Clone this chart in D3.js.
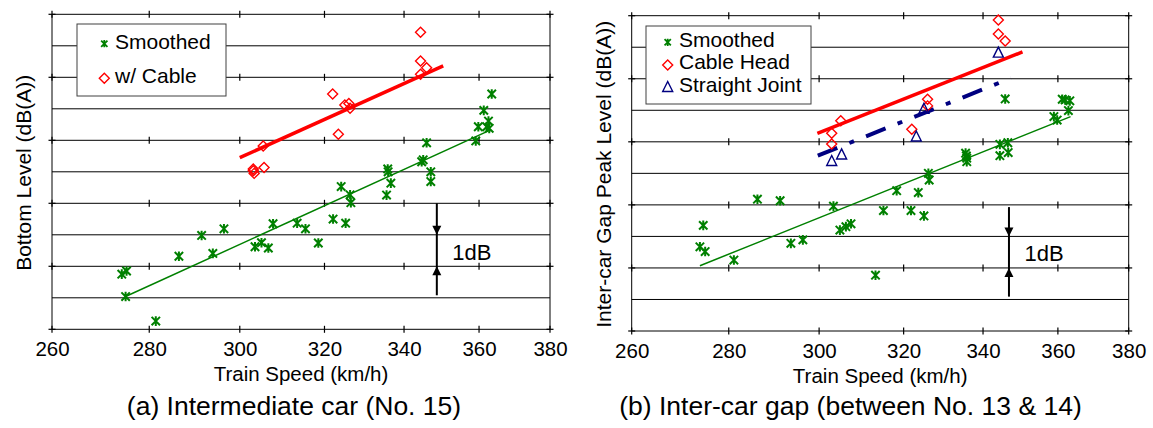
<!DOCTYPE html>
<html><head><meta charset="utf-8">
<script src="https://cdn.jsdelivr.net/npm/d3@7"></script>
<style>
body{margin:0;background:#fff}
svg{display:block}
text{font-family:"Liberation Sans",Arial,Helvetica,sans-serif;fill:#000}
</style>
</head><body>
<svg id="c" width="1153" height="428"></svg>
<script>
// ---------- data ----------
const xTicks = [260, 280, 300, 320, 340, 360, 380];
const yLevels = [0, 1, 2, 3, 4, 5, 6, 7, 8, 9, 10];
const yMajor = [0, 2, 4, 6, 8, 10];

// (a) Intermediate car (No. 15)  [speed km/h, level dB]
const smoothedA = [
  [274.2,1.75],[275.2,1.85],[275.0,1.04],[281.4,0.26],[286.4,2.32],[291.4,2.98],
  [293.9,2.41],[296.4,3.19],[303.5,2.62],[305.0,2.75],[306.6,2.58],[307.7,3.35],
  [313.4,3.37],[315.4,3.19],[318.5,2.74],[322.1,3.50],[324.1,4.53],[325.2,3.37],
  [326.3,4.27],[326.5,4.02],[335.5,4.26],[335.8,5.09],[335.9,5.00],[336.6,4.64],
  [344.6,5.32],[345.0,5.38],[345.9,5.92],[347.0,5.00],[347.0,4.69],[359.1,5.98],
  [359.8,6.43],[361.3,6.95],[362.1,6.43],[362.6,6.61],[362.8,6.38],[363.5,7.47]
];
const cableA = [
  [344.3,9.43],[344.3,8.52],[345.9,8.30],[344.3,8.10],[322.0,7.47],[325.0,7.12],
  [326.0,7.17],[326.3,7.02],[323.4,6.19],[305.4,5.82],[303.1,5.09],[303.3,4.95],
  [303.1,5.03],[305.6,5.14]
];
const fitSmoothedA = [[275.0,1.04],[362.6,6.30]];
const fitCableA = [[300.0,5.45],[350.3,8.36]];

// (b) Inter-car gap (between No. 13 & 14)
const smoothedB = [
  [274.6,3.35],[273.9,2.67],[275.0,2.52],[281.1,2.25],[286.2,4.18],[291.2,4.13],
  [293.6,2.78],[296.3,2.89],[303.3,3.96],[304.8,3.20],[306.2,3.31],[307.4,3.40],
  [313.2,1.77],[315.1,3.82],[318.3,4.45],[321.8,3.82],[323.6,4.39],[325.0,3.65],
  [326.1,5.00],[326.3,4.79],[335.5,5.64],[335.8,5.48],[335.8,5.37],[335.7,5.55],
  [344.4,5.92],[344.4,5.56],[346.5,5.97],[346.6,5.66],[345.8,7.36],[358.9,6.80],
  [359.8,6.69],[361.2,7.35],[362.0,7.33],[363.3,7.30],[362.9,6.99]
];
const cableHeadB = [
  [344.0,9.86],[344.0,9.42],[345.8,9.20],[325.9,7.35],[325.9,7.14],[322.0,6.40],
  [305.0,6.67],[302.9,6.27],[302.9,5.93]
];
const straightJointB = [
  [302.9,5.39],[305.2,5.60],[323.1,6.17],[325.0,7.05],[344.0,8.83]
];
const fitSmoothedB = [[273.9,2.07],[363.5,6.80]];
const fitCableHeadB = [[299.6,6.27],[350.4,8.85]];
const fitJointB = [[299.7,5.56],[347.3,8.02]];

// 1 dB scale marks [speed, top level, bottom level]
const dbMarkA = [348.6, 4.0, 1.08];
const dbMarkB = [346.8, 3.93, 1.09];

// ---------- drawing ----------
const svg = d3.select("#c");
const GREEN = "#008000", RED = "#ff0000", NAVY = "#000080";
const starPath = "M-4.2,-4.2L4.2,4.2M-4.2,4.2L4.2,-4.2M0,-4.8L0,4.8";
const diamondPath = "M0,-5L5,0L0,5L-5,0Z";
const trianglePath = "M0,-5.5L5,4.5L-5,4.5Z";

function drawStars(g, data, x, y) {
  g.selectAll(null).data(data).join("path")
    .attr("d", starPath)
    .attr("transform", d => `translate(${x(d[0])},${y(d[1])})`)
    .attr("fill", "none").attr("stroke", GREEN).attr("stroke-width", 2);
}
function drawDiamonds(g, data, x, y) {
  g.selectAll(null).data(data).join("path")
    .attr("d", diamondPath)
    .attr("transform", d => `translate(${x(d[0])},${y(d[1])})`)
    .attr("fill", "none").attr("stroke", RED).attr("stroke-width", 1.4);
}
function drawTriangles(g, data, x, y) {
  g.selectAll(null).data(data).join("path")
    .attr("d", trianglePath)
    .attr("transform", d => `translate(${x(d[0])},${y(d[1])})`)
    .attr("fill", "none").attr("stroke", NAVY).attr("stroke-width", 1.4);
}
function drawFit(g, data, x, y, color, width, dash) {
  const p = g.append("path").datum(data)
    .attr("d", d3.line().x(d => x(d[0])).y(d => y(d[1])))
    .attr("fill", "none").attr("stroke", color).attr("stroke-width", width);
  if (dash) p.attr("stroke-dasharray", dash);
}

function panel(cfg) {
  const x = d3.scaleLog().domain([260, 380]).range([cfg.l, cfg.r]);
  const y = d3.scaleLinear().domain([0, 10]).range([cfg.b, cfg.t]);
  const g = svg.append("g");

  // horizontal gridlines
  g.selectAll(null).data(yLevels).join("line")
    .attr("x1", cfg.l).attr("x2", cfg.r)
    .attr("y1", d => y(d)).attr("y2", d => y(d))
    .attr("stroke", "#000").attr("stroke-width", 1);
  // side axes
  [cfg.l, cfg.r].forEach(px => {
    g.append("line").attr("x1", px).attr("x2", px).attr("y1", cfg.t).attr("y2", cfg.b)
      .attr("stroke", "#000").attr("stroke-width", 1);
  });
  // tick crosses on side axes at major levels
  yMajor.forEach(v => {
    [cfg.l, cfg.r].forEach(px => {
      g.append("line").attr("x1", px - 3.5).attr("x2", px + 3.5)
        .attr("y1", y(v)).attr("y2", y(v)).attr("stroke", "#000").attr("stroke-width", 1.2);
    });
    xTicks.forEach(t => {
      g.append("line").attr("x1", x(t)).attr("x2", x(t))
        .attr("y1", y(v) - 3.5).attr("y2", y(v) + 3.5).attr("stroke", "#000").attr("stroke-width", 1.2);
    });
  });
  // bottom axis labels via d3 axis
  const ax = g.append("g").attr("transform", `translate(0,${cfg.b})`)
    .call(d3.axisBottom(x).tickValues(xTicks).tickFormat(d3.format("d")).tickSize(0).tickPadding(0));
  ax.select(".domain").remove();
  ax.selectAll("text").attr("y", 27).attr("dy", 0)
    .style("font-size", "20.5px").style("font-family", '"Liberation Sans",Arial,sans-serif').attr("fill", "#000");

  // axis titles
  g.append("text").attr("x", (cfg.l + cfg.r) / 2).attr("y", cfg.b + 52)
    .attr("text-anchor", "middle").style("font-size", "20.5px").text("Train Speed (km/h)");
  g.append("text").attr("transform", `translate(${cfg.yTitleX},${(cfg.t + cfg.b) / 2 + 1}) rotate(-90)`)
    .attr("text-anchor", "middle").style("font-size", "21px").text(cfg.yTitle);
  g.append("text").attr("x", cfg.capX).attr("y", 415)
    .attr("text-anchor", "middle").style("font-size", "26.5px").text(cfg.caption);

  // 1 dB marker
  const m = cfg.dbMark;
  const mx = x(m[0]);
  g.append("line").attr("x1", mx).attr("x2", mx).attr("y1", y(m[1])).attr("y2", y(m[2]))
    .attr("stroke", "#000").attr("stroke-width", 2);
  const yd = y(3), yu = y(2);
  g.append("path").attr("d", `M${mx},${yd}L${mx - 4.5},${yd - 9}L${mx + 4.5},${yd - 9}Z`).attr("fill", "#000");
  g.append("path").attr("d", `M${mx},${yu}L${mx - 4.5},${yu + 9}L${mx + 4.5},${yu + 9}Z`).attr("fill", "#000");
  g.append("text").attr("x", mx + 15.5).attr("y", (yd + yu) / 2 + 9)
    .style("font-size", "22px").text("1dB");

  return { g, x, y };
}

// ----- panel (a)
const A = panel({ l: 52, r: 550, t: 14.3, b: 329.3, yTitleX: 31, capX: 294,
  yTitle: "Bottom Level (dB(A))", caption: "(a) Intermediate car (No. 15)", dbMark: dbMarkA });
drawFit(A.g, fitSmoothedA, A.x, A.y, GREEN, 1.5);
drawFit(A.g, fitCableA, A.x, A.y, RED, 3.5);
drawStars(A.g, smoothedA, A.x, A.y);
drawDiamonds(A.g, cableA, A.x, A.y);

// ----- panel (b)
const B = panel({ l: 631.7, r: 1128.7, t: 15.7, b: 331, yTitleX: 611, capX: 850.5,
  yTitle: "Inter-car Gap Peak Level (dB(A))", caption: "(b) Inter-car gap (between No. 13 & 14)", dbMark: dbMarkB });
drawFit(B.g, fitSmoothedB, B.x, B.y, GREEN, 1.5);
drawFit(B.g, fitCableHeadB, B.x, B.y, RED, 3.5);
drawFit(B.g, fitJointB, B.x, B.y, NAVY, 4, "21,13,5,13");
drawStars(B.g, smoothedB, B.x, B.y);
drawDiamonds(B.g, cableHeadB, B.x, B.y);
drawTriangles(B.g, straightJointB, B.x, B.y);

// ----- legends
function legend(box, items) {
  const g = svg.append("g");
  g.append("rect").attr("x", box[0]).attr("y", box[1]).attr("width", box[2]).attr("height", box[3])
    .attr("fill", "#fff").attr("stroke", "#404040").attr("stroke-width", 1);
  items.forEach(it => {
    g.append("path").attr("d", it.path)
      .attr("transform", `translate(${it.mx},${it.my}) scale(${it.scale || 1})`)
      .attr("fill", "none").attr("stroke", it.color).attr("stroke-width", it.sw);
    g.append("text").attr("x", it.tx).attr("y", it.ty).style("font-size", "21px").text(it.label);
  });
}
legend([77, 24, 149, 72], [
  { path: starPath, mx: 104.3, my: 43.7, scale: 0.75, color: GREEN, sw: 2.4, tx: 115, ty: 49, label: "Smoothed" },
  { path: diamondPath, mx: 104.3, my: 78.3, color: RED, sw: 1.4, tx: 115, ty: 83, label: "w/ Cable" }
]);
legend([646, 26, 165, 78], [
  { path: starPath, mx: 667.7, my: 42.3, scale: 0.75, color: GREEN, sw: 2.4, tx: 679, ty: 47, label: "Smoothed" },
  { path: diamondPath, mx: 667.7, my: 65, color: RED, sw: 1.4, tx: 679, ty: 69, label: "Cable Head" },
  { path: trianglePath, mx: 667.7, my: 87, color: NAVY, sw: 1.4, tx: 679, ty: 91.5, label: "Straight Joint" }
]);
</script>
</body></html>
